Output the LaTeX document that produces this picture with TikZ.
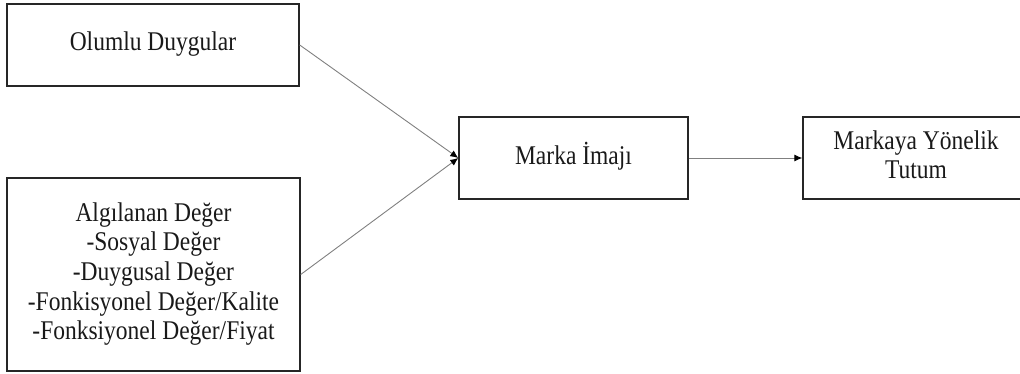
\documentclass[tikz,border=0pt]{standalone}
\usepackage{fontspec}
\usepackage{graphicx}
\setmainfont{Liberation Serif}
\usetikzlibrary{arrows.meta}
\newcommand{\vtxt}[1]{\scalebox{1}[1.15]{\begin{tabular}{@{}c@{}}#1\end{tabular}}}
\begin{document}
\begin{tikzpicture}[x=1pt,y=-1pt,
  box/.style={draw=black!85,line width=1.4pt,inner sep=0pt,align=center,
    font=\fontsize{23.5}{25.8}\selectfont,text=black!90},
  conn/.style={draw=black!50,line width=0.9pt,-{Latex[length=8pt,width=7pt,black]}}]
\useasboundingbox (0,0) rectangle (1020,374);
\node[box,minimum width=292pt,minimum height=82pt] (pos) at (153,45) {\vtxt{Olumlu Duygular}};
\node[box,minimum width=293pt,minimum height=193pt] (val) at (153.5,274.5)
  {\vtxt{Algılanan Değer\\-Sosyal Değer\\-Duygusal Değer\\-Fonkisyonel Değer/Kalite\\-Fonksiyonel Değer/Fiyat}};
\node[box,minimum width=229pt,minimum height=82pt] (img) at (573.5,158) {\vtxt{Marka İmajı}};
\node[box,minimum width=226pt,minimum height=82pt] (att) at (916,158) {\vtxt{Markaya Yönelik\\Tutum}};
\draw[conn] (pos.east) -- (img.west);
\draw[conn] (val.east) -- (img.west);
\draw[conn] (img.east) -- (att.west);
\end{tikzpicture}
\end{document}
